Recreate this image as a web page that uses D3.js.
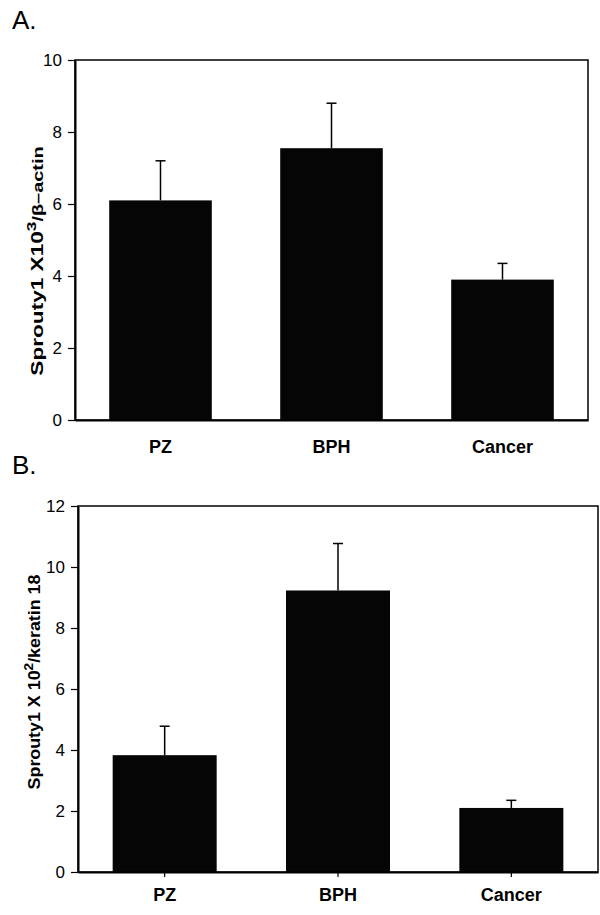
<!DOCTYPE html>
<html lang="en">
<head>
  <meta charset="UTF-8">
  <script src="https://d3js.org/d3.v7.min.js"></script>
  <title>Sprouty1 expression</title>
  <style>
    body { margin: 0; background: #fff; }
    text { font-family: "Liberation Sans", Arial, sans-serif; fill: #000; }
  </style>
</head>
<body>
  <svg id="chart" width="600" height="915"></svg>

  <script>
    // categories and values
    var groups = ["PZ", "BPH", "Cancer"];

    // panel A: Sprouty1 x10^3 / beta-actin
    var meansA = [6.1, 7.55, 3.9];
    var semA = [1.1, 1.25, 0.45];
    var ticksA = [0, 2, 4, 6, 8, 10];

    // panel B: Sprouty1 x10^2 / keratin 18
    var meansB = [3.83, 9.23, 2.1];
    var semB = [0.95, 1.54, 0.25];
    var ticksB = [0, 2, 4, 6, 8, 10, 12];

    var svg = d3.select("#chart");

    function panel(opt) {
      var x = d3.scaleBand()
        .domain(groups)
        .range([opt.left, opt.right])
        .paddingInner(0.4)
        .paddingOuter(0.2);

      var y = d3.scaleLinear()
        .domain([0, opt.max])
        .range([opt.bottom, opt.top]);

      var g = svg.append("g");

      // panel letter
      g.append("text")
        .attr("x", 12)
        .attr("y", opt.letterY)
        .style("font-size", "26px")
        .text(opt.letter);

      // bars
      g.selectAll("rect.bar")
        .data(groups)
        .enter()
        .append("rect")
          .attr("class", "bar")
          .attr("x", function(d) { return x(d); })
          .attr("width", x.bandwidth())
          .attr("y", function(d, i) { return y(opt.means[i]); })
          .attr("height", function(d, i) { return y(0) - y(opt.means[i]); })
          .attr("fill", "#050505");

      // error bars (upper only)
      var err = g.selectAll("g.err")
        .data(groups)
        .enter()
        .append("g")
          .attr("class", "err");
      err.append("line")
        .attr("x1", function(d) { return x(d) + x.bandwidth() / 2; })
        .attr("x2", function(d) { return x(d) + x.bandwidth() / 2; })
        .attr("y1", function(d, i) { return y(opt.means[i]); })
        .attr("y2", function(d, i) { return y(opt.means[i] + opt.sem[i]); })
        .attr("stroke", "#000")
        .attr("stroke-width", 1.5);
      err.append("line")
        .attr("x1", function(d) { return x(d) + x.bandwidth() / 2 - 5; })
        .attr("x2", function(d) { return x(d) + x.bandwidth() / 2 + 5; })
        .attr("y1", function(d, i) { return y(opt.means[i] + opt.sem[i]); })
        .attr("y2", function(d, i) { return y(opt.means[i] + opt.sem[i]); })
        .attr("stroke", "#000")
        .attr("stroke-width", 1.5);

      // frame
      g.append("rect")
        .attr("x", opt.left)
        .attr("y", opt.top)
        .attr("width", opt.right - opt.left)
        .attr("height", opt.bottom - opt.top)
        .attr("fill", "none")
        .attr("stroke", "#000")
        .attr("stroke-width", 1.5);

      // y axis
      var yAxis = g.append("g")
        .attr("transform", "translate(" + opt.left + ",0)")
        .call(d3.axisLeft(y).tickValues(opt.ticks).tickSize(7).tickPadding(6).tickSizeOuter(0));
      yAxis.select(".domain").attr("stroke-width", 2);
      yAxis.selectAll(".tick line").attr("stroke-width", 1.2);
      yAxis.selectAll(".tick text")
        .style("font-family", '"Liberation Sans", Arial, sans-serif')
        .style("font-size", "17px")
        .attr("fill", "#000");

      // x axis
      var xAxis = g.append("g")
        .attr("transform", "translate(0," + opt.bottom + ")")
        .call(d3.axisBottom(x).tickSize(opt.xTick).tickPadding(opt.xPad).tickSizeOuter(0));
      xAxis.select(".domain").attr("stroke-width", 2);
      xAxis.selectAll(".tick line").attr("stroke-width", 1.2);
      xAxis.selectAll(".tick text")
        .style("font-family", '"Liberation Sans", Arial, sans-serif')
        .style("font-size", "18px")
        .style("font-weight", "bold")
        .attr("fill", "#000");

      // y label, stretched along its length like the scanned original
      var lab = g.append("text")
        .attr("transform", "translate(" + opt.labelX + "," + opt.labelY + ") rotate(-90) scale(" + opt.labelStretch + ",1)")
        .attr("text-anchor", "middle")
        .style("font-size", "17px")
        .style("font-weight", "bold");
      lab.append("tspan").text(opt.label[0]);
      lab.append("tspan").attr("dy", -7).style("font-size", "13px").text(opt.label[1]);
      lab.append("tspan").attr("dy", 7).style("font-size", opt.tailSize).text(opt.label[2]);
    }

    panel({
      letter: "A.", letterY: 29,
      left: 75, right: 588, top: 60, bottom: 420,
      max: 10, ticks: ticksA, means: meansA, sem: semA,
      xTick: 0, xPad: 20,
      labelX: 43, labelY: 261, labelStretch: 1.33, tailSize: "15px",
      label: ["Sprouty1 X10", "3", "/β–actin"]
    });

    panel({
      letter: "B.", letterY: 474,
      left: 78, right: 598, top: 506, bottom: 872,
      max: 12, ticks: ticksB, means: meansB, sem: semB,
      xTick: 5, xPad: 11,
      labelX: 40, labelY: 682, labelStretch: 1.05, tailSize: "17px",
      label: ["Sprouty1 X 10", "2", "/keratin 18"]
    });
  </script>
</body>
</html>
